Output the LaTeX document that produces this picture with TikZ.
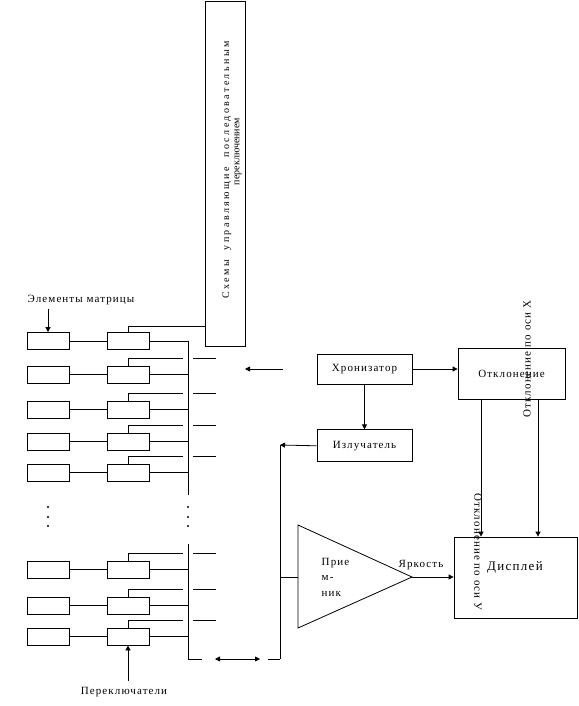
\documentclass[tikz,border=0pt]{standalone}
\usepackage{fontspec}
\setmainfont{Liberation Serif}[LetterSpace=10]
\usetikzlibrary{arrows.meta,positioning,calc}

\begin{document}
\begin{tikzpicture}[x=1pt, y=-1pt, thick, >={Triangle[length=5pt,width=5pt]},
    font=\fontsize{11}{15.5}\selectfont,
    block/.style = {draw, inner sep=0pt},
    cell/.style = {draw, minimum width=42pt, minimum height=17pt, inner sep=0pt}]
        \useasboundingbox (0,0) rectangle (578,706);

        % control box with the vertical text
        \node[block, minimum width=40pt, minimum height=345pt] (sx) at (225,173.5) {};
        \node[rotate=90, font=\fontsize{10}{12}\selectfont\addfontfeature{LetterSpace=24}] (sx1) at (227,170) {Схемы\ \ управляющие\ \ последовательным};
        \node[rotate=90, font=\fontsize{10}{12}\selectfont\addfontfeature{LetterSpace=0}] (sx2) at (238,151.5) {переключением};

        % matrix rows
        \foreach \i/\y in {1/341, 2/374.5, 3/409.5, 4/441.5, 5/472.5, 6/569.5, 7/605.5, 8/636.5} {
            \node[cell] (a\i) at (48,\y) {};
            \node[cell] (b\i) at (128,\y) {};
            \draw (a\i) -- (b\i);
            \draw (b\i.east) -- (188,\y);
        }
        \foreach \i in {2,...,8} {
            \draw (b\i.north) -- ++(0,-7.5) -- ++(55,0) ++(10,0) -- ++(23,0);
        }
        \draw (b1.north) -- ++(0,-5.5) coordinate (t1) -- (t1 -| sx.west);
        \foreach \y in {507,517,526} {
            \fill (48,\y) circle (1.2pt);
            \fill (188,\y) circle (1.2pt);
        }

        % bus
        \coordinate (bt) at (188,341);
        \coordinate (bb) at (188,659);
        \coordinate (vt) at (280,445);
        \coordinate (vb) at (280,659);
        \draw (bt) -- ++(0,154);
        \draw (bb) -- ++(0,-115);

        \node[block, minimum width=95pt, minimum height=30pt] (hron) at (364.5,369) {Хронизатор};
        \node[block, minimum width=95pt, minimum height=32pt] (izl) [below = 45pt of hron] {Излучатель};
        \node[block, minimum width=107pt, minimum height=51pt] (otkl) at (511.5,373.5) {Отклонение};
        \node[block, minimum width=123pt, minimum height=81pt] (disp) at (515.5,577.5) {};
        \node[font=\fontsize{13}{15}\selectfont] (disptxt) at (515,567) {Дисплей};
        \node[rotate=90] (ox) at (527,359) {Отклонение по оси Х};
        \node[rotate=-90] (oy) at (478,552) {Отклонение по оси У};

        % receiver triangle
        \coordinate (pb) at (298,577);
        \coordinate (pa) at (412,577);
        \draw (298,525) -- (pa) -- (298,628) -- cycle;
        \node[align=left, anchor=west] (prtxt) at (318,577) {Прие\\м-\\ник};
        \node (yark) at (421,565) {Яркость};
        \node (elem) at (81,300) {Элементы матрицы};
        \node (pere) at (124,692) {Переключатели};

        \draw[->, shorten <=34pt] (hron.west) -- (245,369);
        \draw[->] (hron.east) -- (hron.east -| otkl.west);
        \draw[->] (hron) -- (izl);
        \draw[->] (izl.west) -- (vt);
        \draw (vt) -- (vb);
        \draw (pb) -- (pb -| vt);
        \draw[->] (pa) -- (pa -| disp.west);
        \draw[->] ([xshift=-30.5pt]otkl.south) -- ([xshift=-30.5pt]otkl.south |- disp.north);
        \draw[->] ([xshift=26.5pt]otkl.south) -- ([xshift=26.5pt]otkl.south |- disp.north);
        \draw (bb) -- ++(14,0);
        \draw[<->] ([xshift=27pt]bb) -- ([xshift=-20pt]vb);
        \draw ([xshift=-12pt]vb) -- (vb);
        \draw[->] (a1.north |- elem.south) -- (a1.north);
        \draw[->, shorten <=3pt] (b8.south |- pere.north) -- (b8.south);

    \end{tikzpicture}
\end{document}
